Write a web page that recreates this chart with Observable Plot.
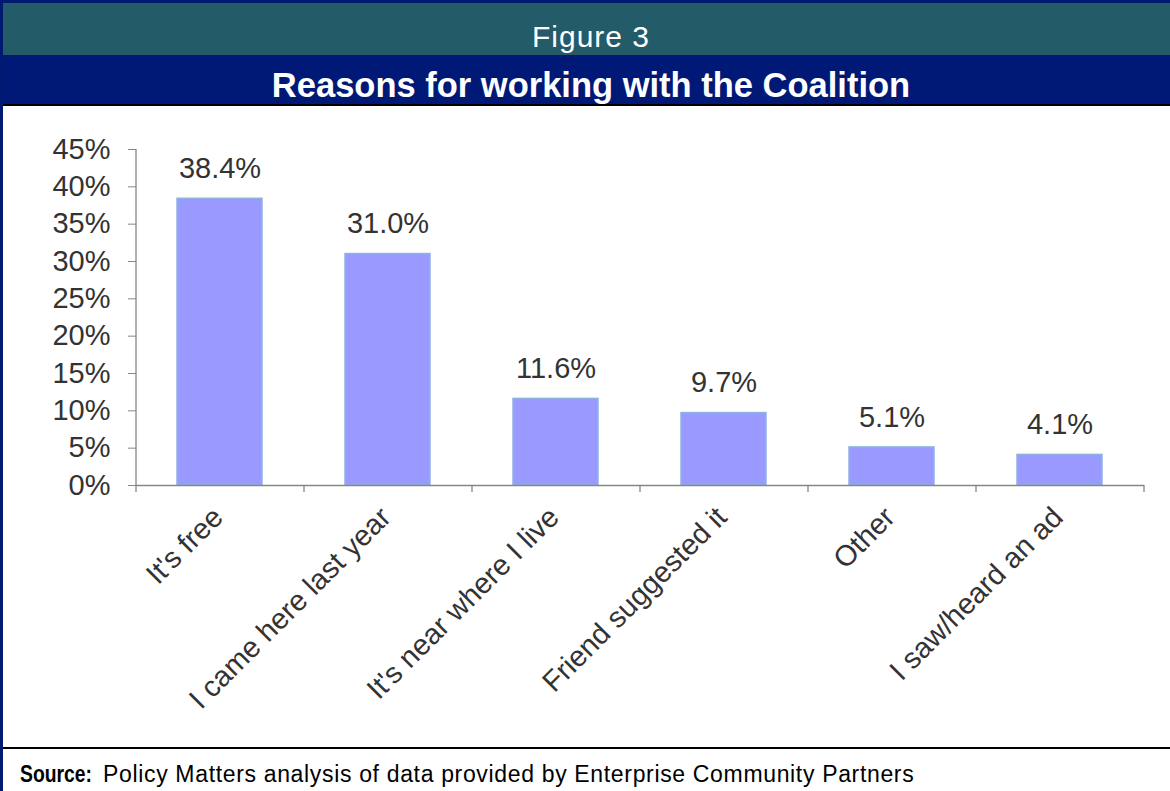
<!DOCTYPE html>
<html>
<head>
<meta charset="utf-8">
<script src="https://cdn.jsdelivr.net/npm/d3@7"></script>
<script src="https://cdn.jsdelivr.net/npm/@observablehq/plot@0.6"></script>
<style>
  html, body { margin: 0; padding: 0; background: #fff; }
  #page { position: relative; width: 1170px; height: 791px; overflow: hidden; background: #fff;
          font-family: Arial, "Liberation Sans", sans-serif; }
  .abs { position: absolute; }
  #bl { left: 0; top: 0; width: 3px; height: 791px; background: #001a72; }
  #bt { left: 0; top: 0; width: 1180px; height: 3px; background: #001a72; }
  #h1 { left: 3px; top: 3px; width: 1176px; height: 52px; background: #235b69; color: #fff;
        font-size: 30px; letter-spacing: 1px; text-align: center; line-height: 67px; overflow: hidden; }
  #h2 { left: 3px; top: 55px; width: 1176px; height: 49px; background: #001977; color: #fff;
        font-size: 34.5px; font-weight: bold; text-align: center; line-height: 60px; overflow: hidden; }
  #l1 { left: 3px; top: 104px; width: 1176px; height: 2px; background: #000; }
  #chart { left: 0; top: 106px; }
  #l2 { left: 3px; top: 747px; width: 1176px; height: 2px; background: #000; }
  #srcb { left: 20px; top: 749px; line-height: 50px; font-size: 23px; font-weight: bold; color: #000;
          transform: scaleX(0.84); transform-origin: left center; white-space: pre; }
  #srct { left: 103px; top: 749px; line-height: 50px; font-size: 23px; letter-spacing: 0.66px; color: #000; white-space: pre; }
</style>
</head>
<body>
<div id="page">
  <div class="abs" id="h1">Figure 3</div>
  <div class="abs" id="h2">Reasons for working with the Coalition</div>
  <div class="abs" id="l1"></div>
  <div class="abs" id="chart"></div>
  <div class="abs" id="l2"></div>
  <div class="abs" id="srcb">Source:</div>
  <div class="abs" id="srct">Policy Matters analysis of data provided by Enterprise Community Partners</div>
  <div class="abs" id="bl"></div>
  <div class="abs" id="bt"></div>
</div>
<script>
const categories = ["It's free", "I came here last year", "It's near where I live", "Friend suggested it", "Other", "I saw/heard an ad"];
const values = [38.4, 31.0, 11.6, 9.7, 5.1, 4.1];
const yTicks = [0, 5, 10, 15, 20, 25, 30, 35, 40, 45];

const data = categories.map((c, i) => ({cat: c, value: values[i]}));

const W = 1170, H = 640, ML = 136, MR = 26, MT = 43, MB = 261;
const step = (W - ML - MR) / categories.length;
const axisGray = "#868686";
const textColor = "#333333";

const chart = Plot.plot({
  width: W, height: H,
  marginLeft: ML, marginRight: MR, marginTop: MT, marginBottom: MB,
  style: {fontFamily: "Arial, 'Liberation Sans', sans-serif", fontSize: "29px", color: textColor, background: "transparent", overflow: "visible"},
  x: {domain: categories, paddingInner: 0.494, paddingOuter: 0.247, axis: null},
  y: {domain: [0, 45], axis: null},
  marks: [
    Plot.barY(data, {x: "cat", y: "value", fill: "#9999ff", stroke: "#8db4e2", strokeWidth: 1.5}),
    Plot.ruleY([0], {stroke: axisGray, strokeWidth: 1.3}),
    Plot.ruleX([categories[0]], {x: d => d, y1: 0, y2: 45, dx: -step / 2, stroke: axisGray, strokeWidth: 1.3}),
    Plot.ruleX(categories, {x: d => d, y1: 0, y2: 0, insetBottom: -7, dx: -step / 2, stroke: axisGray, strokeWidth: 1.3}),
    Plot.ruleX([categories[categories.length - 1]], {x: d => d, y1: 0, y2: 0, insetBottom: -7, dx: step / 2, stroke: axisGray, strokeWidth: 1.3}),
    Plot.axisY(yTicks, {label: null, tickSize: 8, tickPadding: 18, tickFormat: d => d + "%", stroke: axisGray, fill: textColor, fontSize: 29}),
    Plot.text(categories, {x: d => d, y: 0, text: d => d, rotate: -45, textAnchor: "end", lineAnchor: "middle", dx: -2, dy: 27, fill: textColor, fontSize: 29}),
    Plot.text(data, {x: "cat", y: "value", text: d => d.value.toFixed(1) + "%", dy: -30, fill: textColor, fontSize: 29})
  ]
});
document.getElementById("chart").appendChild(chart);
</script>
</body>
</html>
